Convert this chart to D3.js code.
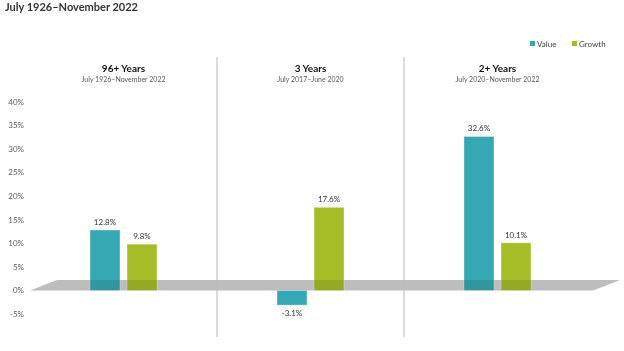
<!DOCTYPE html>
<html>
<head>
<meta charset="utf-8">
<script src="https://cdn.jsdelivr.net/npm/d3@7"></script>
<style>
  body { margin: 0; background: #fff; }
  svg { font-family: Lato, "Open Sans", sans-serif; }
</style>
</head>
<body>
<svg id="chart" width="624" height="351"></svg>
<script>
// Value vs Growth returns across three periods
const periods = ["96+ Years", "3 Years", "2+ Years"];
const periodRanges = ["July 1926–November 2022", "July 2017–June 2020", "July 2020–November 2022"];
const seriesNames = ["Value", "Growth"];
const valueReturns = [12.8, -3.1, 32.6];
const growthReturns = [9.8, 17.6, 10.1];
const yTicks = [-5, 0, 5, 10, 15, 20, 25, 30, 35, 40];

const width = 624, height = 351;
const svg = d3.select("#chart");

const data = periods.flatMap((p, i) => [
  { period: p, series: "Value", value: valueReturns[i] },
  { period: p, series: "Growth", value: growthReturns[i] }
]);

const x0 = d3.scaleBand().domain(periods).range([30, 591]);
const x1 = d3.scaleBand().domain(seriesNames).range([60, 127]).paddingInner(0.19);
const y = d3.scaleLinear().domain([-5, 40]).range([314.1, 101.5]);

const color = d3.scaleOrdinal()
  .domain(seriesNames)
  .range(["#35a8b3", "#a7bd28"]);

// Title
svg.append("text")
  .attr("x", 5)
  .attr("y", 11)
  .style("font-size", "11px")
  .style("font-weight", "bold")
  .attr("fill", "#333")
  .text("July 1926–November 2022");

// Legend
const legend = svg.append("g").attr("transform", "translate(530, 41)");
seriesNames.forEach((s, i) => {
  const row = legend.append("g").attr("transform", `translate(${i * 42}, 0)`);
  row.append("rect").attr("width", 5).attr("height", 5).attr("fill", color(s));
  row.append("text")
    .attr("x", 7)
    .attr("y", 5.5)
    .style("font-size", "8px")
    .attr("fill", "#404040")
    .text(s);
});

// Y axis labels
svg.append("g")
  .selectAll("text")
  .data(yTicks)
  .join("text")
  .attr("x", 24)
  .attr("y", d => y(d) + 3)
  .attr("text-anchor", "end")
  .style("font-size", "8px")
  .attr("fill", "#595959")
  .text(d => d + "%");

// Floor of the chart (3D look)
const depthX = 27, depthY = 10.5;
const y0 = y(0);
const floorPts = [
  [x0.range()[0], y0],
  [x0.range()[0] + depthX, y0 - depthY],
  [x0.range()[1] + depthX + 2, y0 - depthY],
  [x0.range()[1] + 2, y0]
];
svg.append("polygon")
  .attr("points", floorPts.map(p => p.join(",")).join(" "))
  .attr("fill", "#d4d4d4");

// Panel separators
svg.append("g")
  .selectAll("line")
  .data(periods.slice(1))
  .join("line")
  .attr("x1", d => x0(d))
  .attr("x2", d => x0(d))
  .attr("y1", 57)
  .attr("y2", 337)
  .attr("stroke", "#d0d0d0")
  .attr("stroke-width", 1.5);

// Panel headers
const headers = svg.append("g")
  .selectAll("g")
  .data(periods)
  .join("g")
  .attr("transform", d => `translate(${x0(d) + x0.bandwidth() / 2}, 0)`);

headers.append("text")
  .attr("y", 72)
  .attr("text-anchor", "middle")
  .style("font-size", "10px")
  .style("font-weight", "bold")
  .attr("fill", "#111")
  .text(d => d);

headers.append("text")
  .attr("y", 82)
  .attr("text-anchor", "middle")
  .style("font-size", "7px")
  .attr("fill", "#595959")
  .text((d, i) => periodRanges[i]);

// Bars
svg.append("g")
  .selectAll("rect")
  .data(data)
  .join("rect")
  .attr("x", d => x0(d.period) + x1(d.series))
  .attr("y", d => y(Math.max(0, d.value)))
  .attr("width", x1.bandwidth())
  .attr("height", d => Math.abs(y(d.value) - y0))
  .attr("fill", d => color(d.series))
  .attr("stroke", "#ffffff")
  .attr("stroke-opacity", 0.35)
  .attr("stroke-width", 1);

// Floor overlay so bar bases look sunk in it
svg.append("polygon")
  .attr("points", floorPts.map(p => p.join(",")).join(" "))
  .attr("fill", "#e4e4e4")
  .style("mix-blend-mode", "multiply");

// Data labels
svg.append("g")
  .selectAll("text")
  .data(data)
  .join("text")
  .attr("x", d => x0(d.period) + x1(d.series) + x1.bandwidth() / 2)
  .attr("y", d => d.value >= 0 ? y(d.value) - 5 : y(d.value) + 11)
  .attr("text-anchor", "middle")
  .style("font-size", "8px")
  .attr("fill", "#333")
  .text(d => d.value.toFixed(1) + "%");
</script>
</body>
</html>
